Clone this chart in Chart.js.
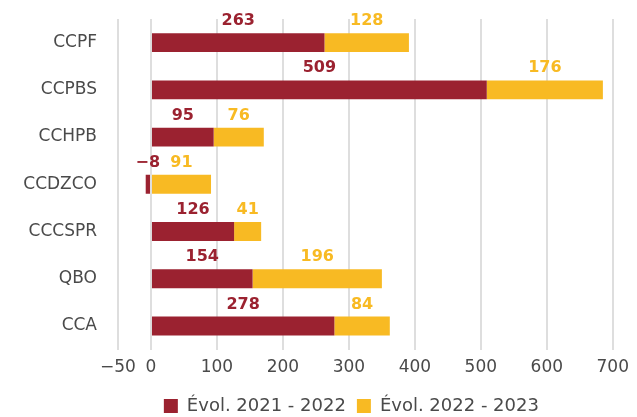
<!DOCTYPE html>
<html>
<head>
<meta charset="utf-8">
<script src="https://cdn.jsdelivr.net/npm/chart.js@4"></script>
<style>
  html, body { margin: 0; padding: 0; background: #fff; }
  #wrap { width: 637px; height: 417px; }
</style>
</head>
<body>
<div id="wrap"><canvas id="chart"></canvas></div>
<script>
const categories = ["CCPF", "CCPBS", "CCHPB", "CCDZCO", "CCCSPR", "QBO", "CCA"];
const evol2122 = [263, 509, 95, -8, 126, 154, 278];
const evol2223 = [128, 176, 76, 91, 41, 196, 84];
const seriesNames = ["Évol. 2021 - 2022", "Évol. 2022 - 2023"];
const xTicks = [-50, 0, 100, 200, 300, 400, 500, 600, 700];

const red = "#9b2230";
const yellow = "#f8ba23";
const textGrey = "#4a4a4a";
const fontName = "'DejaVu Sans', sans-serif";

// labels sitting above each segment, centred on it
const barLabels = {
    id: "barLabels",
    afterDatasetsDraw(chart) {
        const ctx = chart.ctx;
        ctx.save();
        ctx.font = "bold 16px " + fontName;
        ctx.textAlign = "center";
        ctx.textBaseline = "alphabetic";
        chart.data.datasets.forEach((ds, i) => {
            const meta = chart.getDatasetMeta(i);
            ctx.fillStyle = ds.backgroundColor;
            meta.data.forEach((bar, j) => {
                const cx = (bar.x + bar.base) / 2;
                const top = bar.y - bar.height / 2;
                ctx.fillText(String(ds.data[j]).replace("-", "−"), cx, top - 8);
            });
        });
        ctx.restore();
    }
};

// the legend sits centred under the plot area, not the whole canvas
const legendShift = {
    id: "legendShift",
    afterLayout(chart) {
        const lg = chart.legend;
        const dx = (chart.chartArea.left + chart.chartArea.right) / 2 - 14 - (lg.left + lg.right) / 2;
        lg.left += dx;
        lg.right += dx;
    }
};

new Chart(document.getElementById("chart"), {
    type: "bar",
    data: {
        labels: categories,
        datasets: [
            { label: seriesNames[0], data: evol2122, backgroundColor: red },
            { label: seriesNames[1], data: evol2223, backgroundColor: yellow }
        ]
    },
    options: {
        indexAxis: "y",
        responsive: true,
        maintainAspectRatio: false,
        animation: false,
        layout: { padding: { top: 19, right: 20, left: 0, bottom: -8 } },
        datasets: { bar: { barPercentage: 0.8, categoryPercentage: 0.5 } },
        scales: {
            x: {
                stacked: true,
                min: -50,
                max: 700,
                afterBuildTicks: (axis) => {
                    axis.ticks = xTicks.map(v => ({ value: v }));
                },
                grid: { color: "#dedede", lineWidth: 2, drawTicks: false },
                border: { display: false },
                ticks: {
                    color: textGrey,
                    font: { family: fontName, size: 17 },
                    padding: 8,
                    callback: (v) => String(v).replace("-", "−")
                }
            },
            y: {
                stacked: true,
                grid: { display: false },
                border: { display: false },
                afterFit: (axis) => {
                    axis.width = 118;
                    axis.paddingTop = 0;
                    axis.paddingBottom = 0;
                },
                ticks: { color: textGrey, font: { family: fontName, size: 17 }, padding: 13 }
            }
        },
        plugins: {
            legend: {
                position: "bottom",
                labels: {
                    color: textGrey,
                    font: { family: fontName, size: 18 },
                    boxWidth: 14,
                    boxHeight: 14,
                    padding: 11
                }
            },
            tooltip: { enabled: false }
        }
    },
    plugins: [barLabels, legendShift]
});
</script>
</body>
</html>
